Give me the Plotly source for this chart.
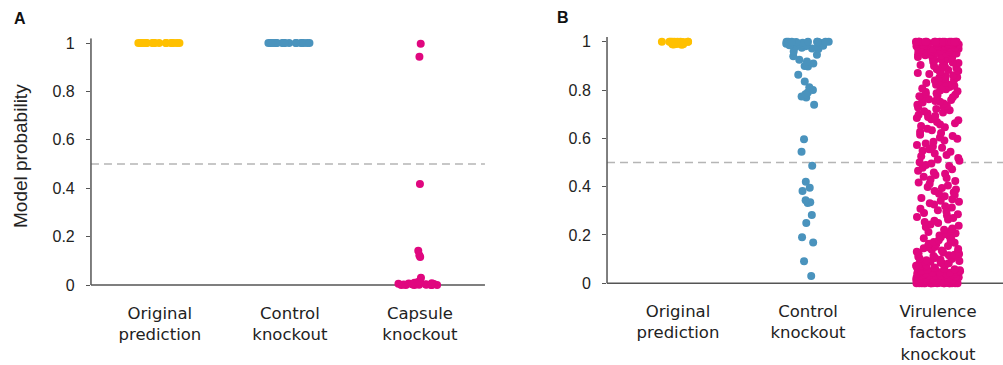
import plotly.graph_objects as go

# ---------------- data ----------------
categories_a = ["Original<br>prediction", "Control<br>knockout", "Capsule<br>knockout"]
categories_b = ["Original<br>prediction", "Control<br>knockout", "Virulence<br>factors<br>knockout"]

y_ticks = [0, 0.2, 0.4, 0.6, 0.8, 1]
y_tick_labels = ["0", "0.2", "0.4", "0.6", "0.8", "1"]
threshold = 0.5

colors = ["#FFC000", "#4A93BD", "#E0077F"]

a_original = [1.0, 1.0, 1.0, 1.0, 1.0, 1.0, 1.0, 1.0, 1.0, 1.0, 1.0, 1.0, 1.0, 1.0, 1.0, 1.0, 1.0, 1.0]
a_control = [1.0, 1.0, 1.0, 1.0, 1.0, 1.0, 1.0, 1.0, 1.0, 1.0, 1.0, 1.0, 1.0, 1.0, 1.0, 1.0, 1.0, 1.0]
a_capsule = [0.997, 0.943, 0.417, 0.142, 0.123, 0.116, 0.03, 0.015, 0.012, 0.009, 0.008,
             0.007, 0.006, 0.005, 0.004, 0.003, 0.003, 0.002, 0.002, 0.001, 0.001,
             0.0, 0.0, 0.0, 0.0, 0.0, 0.0]

b_original = [1.0, 1.0, 1.0, 1.0, 1.0, 1.0, 1.0, 1.0, 1.0, 0.999, 0.998, 0.997, 0.996,
              0.995, 0.994, 0.993, 0.992, 0.991, 0.99, 0.99, 0.989, 0.988]
b_control = [1.0, 1.0, 1.0, 1.0, 1.0, 1.0, 1.0, 1.0, 0.999, 0.998, 0.997, 0.996, 0.995,
             0.993, 0.992, 0.99, 0.988, 0.986, 0.985, 0.983, 0.981, 0.979, 0.977, 0.975,
             0.972, 0.97, 0.96, 0.946, 0.94, 0.925, 0.918, 0.91, 0.9, 0.897, 0.863,
             0.835, 0.812, 0.8, 0.79, 0.783, 0.773, 0.769, 0.739, 0.596, 0.544, 0.487,
             0.42, 0.395, 0.382, 0.344, 0.335, 0.332, 0.283, 0.249, 0.191, 0.169, 0.091,
             0.03]
b_virulence = [
    1.0, 1.0, 1.0, 1.0, 1.0, 1.0, 1.0, 1.0, 1.0, 1.0, 1.0, 1.0, 1.0, 1.0, 1.0, 1.0,
    0.999, 0.999, 0.998, 0.998, 0.997, 0.996, 0.996, 0.995, 0.994, 0.993, 0.993, 0.992,
    0.991, 0.99, 0.989, 0.989, 0.988, 0.987, 0.985, 0.984, 0.984, 0.983, 0.981, 0.98,
    0.979, 0.977, 0.976, 0.976, 0.974, 0.973, 0.971, 0.97, 0.969, 0.967, 0.966, 0.965,
    0.963, 0.961, 0.96, 0.958, 0.957, 0.955, 0.953, 0.951, 0.95, 0.948, 0.946, 0.944,
    0.943, 0.94, 0.937, 0.935, 0.932, 0.93, 0.926, 0.923, 0.921, 0.917, 0.914, 0.912,
    0.907, 0.904, 0.9, 0.897, 0.893, 0.891, 0.886, 0.883, 0.879, 0.876, 0.871, 0.868,
    0.866, 0.861, 0.857, 0.853, 0.851, 0.846, 0.843, 0.84, 0.836, 0.831, 0.829, 0.824,
    0.822, 0.818, 0.813, 0.81, 0.806, 0.803, 0.798, 0.795, 0.792, 0.787, 0.784, 0.781,
    0.777, 0.774, 0.77, 0.765, 0.762, 0.759, 0.755, 0.751, 0.748, 0.744, 0.739, 0.736,
    0.732, 0.728, 0.724, 0.721, 0.716, 0.712, 0.707, 0.703, 0.698, 0.693, 0.688, 0.684,
    0.679, 0.675, 0.668, 0.662, 0.657, 0.651, 0.646, 0.64, 0.633, 0.627, 0.622, 0.615,
    0.61, 0.604, 0.598, 0.591, 0.586, 0.579, 0.572, 0.566, 0.561, 0.555, 0.549, 0.544,
    0.537, 0.531, 0.526, 0.519, 0.512, 0.507, 0.501, 0.496, 0.49, 0.485, 0.478, 0.472,
    0.466, 0.459, 0.453, 0.448, 0.441, 0.436, 0.43, 0.423, 0.417, 0.412, 0.405, 0.399,
    0.394, 0.388, 0.382, 0.377, 0.371, 0.365, 0.36, 0.353, 0.348, 0.342, 0.337, 0.331,
    0.326, 0.319, 0.314, 0.309, 0.302, 0.297, 0.291, 0.286, 0.281, 0.274, 0.27, 0.264,
    0.259, 0.254, 0.249, 0.243, 0.238, 0.233, 0.227, 0.222, 0.218, 0.212, 0.207, 0.203,
    0.198, 0.193, 0.19, 0.186, 0.182, 0.178, 0.175, 0.171, 0.168, 0.164, 0.161, 0.157,
    0.154, 0.151, 0.148, 0.145, 0.142, 0.139, 0.136, 0.133, 0.13, 0.127, 0.124, 0.121,
    0.118, 0.116, 0.113, 0.11, 0.108, 0.105, 0.102, 0.1, 0.097, 0.095, 0.092, 0.09,
    0.088, 0.085, 0.083, 0.081, 0.079, 0.077, 0.075, 0.073, 0.071, 0.069, 0.067, 0.065,
    0.063, 0.061, 0.059, 0.058, 0.056, 0.054, 0.052, 0.05, 0.049, 0.047, 0.046, 0.044,
    0.043, 0.041, 0.04, 0.038, 0.037, 0.036, 0.034, 0.033, 0.032, 0.031, 0.03, 0.028,
    0.027, 0.026, 0.025, 0.024, 0.023, 0.022, 0.021, 0.02, 0.019, 0.018, 0.017, 0.016,
    0.015, 0.014, 0.013, 0.012, 0.012, 0.011, 0.01, 0.009, 0.009, 0.008, 0.007, 0.007,
    0.006, 0.006, 0.005, 0.005, 0.004, 0.004, 0.003, 0.003, 0.003, 0.002, 0.002, 0.002,
    0.001, 0.001, 0.001, 0.001, 0.0, 0.0, 0.0, 0.0, 0.0, 0.0, 0.0, 0.0, 0.0, 0.0,
    0.0, 0.0, 0.0, 0.0, 0.0, 0.0,
]

panel_a = [a_original, a_control, a_capsule]
panel_b = [b_original, b_control, b_virulence]

# ---------------- figure ----------------
fig = go.Figure()

def add_strips(series, xa, ya):
    for i, vals in enumerate(series):
        fig.add_trace(go.Box(
            y=vals, x0=i, boxpoints="all", jitter=1, pointpos=0, width=0.34,
            fillcolor="rgba(0,0,0,0)", line=dict(width=0, color="rgba(0,0,0,0)"),
            marker=dict(color=colors[i], size=8, opacity=1, line=dict(width=0)),
            hoverinfo="skip", showlegend=False, xaxis=xa, yaxis=ya,
        ))

add_strips(panel_a, "x", "y")
add_strips(panel_b, "x2", "y2")

tick_font = dict(family="Liberation Sans, Arial, sans-serif", size=16, color="#222222")
cat_font = dict(family="DejaVu Sans, sans-serif", size=16.5, color="#222222")
axis_col = "#555555"

def xaxis_cfg(domain, rng, labels, anchor):
    return dict(domain=domain, range=rng, tickvals=[0, 1, 2], ticktext=labels,
                showline=False, showgrid=False, zeroline=False, ticks="",
                tickfont=cat_font, anchor=anchor, ticklabelstandoff=10,
                automargin=False, fixedrange=True)

def yaxis_cfg(domain, anchor):
    return dict(domain=domain, range=[-0.025, 1.02], tickvals=y_ticks, ticktext=y_tick_labels,
                showline=False, showgrid=False, zeroline=False, ticks="outside", ticklen=4,
                tickcolor=axis_col, tickwidth=1.3, tickfont=tick_font, anchor=anchor,
                ticklabelstandoff=8, automargin=False, fixedrange=True)

fig.update_layout(
    template="none",
    width=1003, height=365,
    margin=dict(l=0, r=0, t=0, b=0, pad=0),
    paper_bgcolor="white", plot_bgcolor="white",
    boxmode="overlay",
    xaxis=xaxis_cfg([0.0907, 0.4835], [-0.53, 2.5], categories_a, "y"),
    yaxis=yaxis_cfg([0.2026, 0.8953], "x"),
    xaxis2=xaxis_cfg([0.6052, 1.0], [-0.546, 2.5], categories_b, "y2"),
    yaxis2=yaxis_cfg([0.2074, 0.8989], "x2"),
)

shapes = []
for xr, yr in [("x", "y"), ("x2", "y2")]:
    # threshold line
    shapes.append(dict(type="line", xref=f"{xr} domain", yref=yr, x0=0, x1=1,
                       y0=threshold, y1=threshold, layer="below",
                       line=dict(color="#B5B5B5", width=1.5, dash="8px,5px")))
    # x axis line at 0
    shapes.append(dict(type="line", xref=f"{xr} domain", yref=yr, x0=0, x1=1,
                       y0=0, y1=0, layer="below", line=dict(color=axis_col, width=1.5)))
    # y axis line
    shapes.append(dict(type="line", xref=f"{xr} domain", yref=yr, x0=0, x1=0,
                       y0=0, y1=1.02, layer="below", line=dict(color=axis_col, width=1.5)))
fig.update_layout(shapes=shapes)

fig.add_annotation(text="<b>A</b>", xref="paper", yref="paper", x=20 / 1003, y=1 - 18 / 365,
                   showarrow=False, xanchor="center", yanchor="middle",
                   font=dict(family="Liberation Sans, Arial, sans-serif", size=16, color="#111111"))
fig.add_annotation(text="<b>B</b>", xref="paper", yref="paper", x=563 / 1003, y=1 - 17 / 365,
                   showarrow=False, xanchor="center", yanchor="middle",
                   font=dict(family="Liberation Sans, Arial, sans-serif", size=16, color="#111111"))
fig.add_annotation(text="Model probability", xref="paper", yref="paper", x=20 / 1003,
                   y=1 - 156 / 365, showarrow=False, textangle=-90,
                   xanchor="center", yanchor="middle",
                   font=dict(family="Liberation Sans, Arial, sans-serif", size=19, color="#222222"))

fig.write_html("out.html", config={"displayModeBar": False},
               post_script="document.body.style.margin='0';")
